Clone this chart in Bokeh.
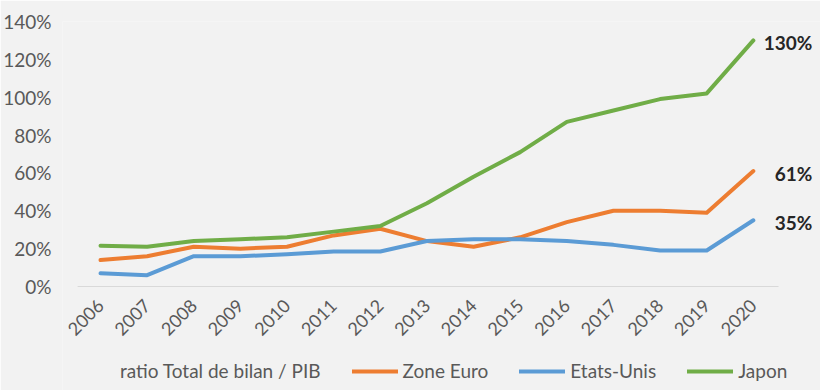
from math import pi
from bokeh.plotting import figure
from bokeh.models import (ColumnDataSource, Legend, LegendItem, Label,
                          PrintfTickFormatter, Range1d, FixedTicker)
from bokeh.embed import file_html
from bokeh.resources import INLINE

years = list(range(2006, 2021))
zone_euro = [14, 16, 21, 20, 21, 27, 30.5, 24, 21, 26, 34, 40, 40, 39, 61]
etats_unis = [7, 6, 16, 16, 17, 18.5, 18.5, 24, 25, 25, 24, 22, 19, 19, 35]
japon = [21.5, 21, 24, 25, 26, 29, 32, 44, 58, 71, 87, 93, 99, 102, 130]
y_ticks = [0, 20, 40, 60, 80, 100, 120, 140]
end_labels = ["130%", "61%", "35%"]
legend_title = "ratio Total de bilan / PIB"
series_names = ["Zone Euro", "Etats-Unis", "Japon"]

BG = "#f2f2f2"
FONT = "Lato"
colors = ["#ED7D31", "#5B9BD5", "#70AD47"]

# frame covers the whole area left/right/below so labels and legend are not clipped
x_start = years[0] - 0.815
x_end = years[-1] + 1.44
p = figure(width=820, height=390, output_backend="svg", toolbar_location=None,
           x_range=Range1d(x_start, x_end), y_range=Range1d(-54.94, 140),
           min_border_left=62, min_border_right=0, min_border_top=21,
           min_border_bottom=0)
p.background_fill_color = BG
p.border_fill_color = BG
p.outline_line_color = None
p.grid.visible = False

source = ColumnDataSource(dict(year=years, ze=zone_euro, us=etats_unis, jp=japon))

# baseline (category axis extent)
p.segment(x0=[years[0] - 0.49], y0=[0], x1=[years[-1] + 0.54], y1=[0],
          line_color="#d9d9d9", line_width=1)

# invisible renderer used only as a text-only legend entry
title_r = p.line("year", "ze", source=source, line_alpha=0)
renderers = []
for col, c in zip(["ze", "us", "jp"], colors):
    r = p.line("year", col, source=source, line_color=c, line_width=4,
               line_cap="round", line_join="round")
    renderers.append(r)

# y axis
p.yaxis.ticker = FixedTicker(ticks=y_ticks)
p.yaxis.formatter = PrintfTickFormatter(format="%d%%")
p.yaxis.axis_line_color = None
p.yaxis.major_tick_line_color = None
p.yaxis.minor_tick_line_color = None
p.yaxis.major_label_standoff = 5
p.yaxis.major_label_text_font = FONT
p.yaxis.major_label_text_font_size = "19px"
p.yaxis.major_label_text_color = "#595959"

# x axis drawn at y = 0
p.xaxis.fixed_location = 0
p.xaxis.ticker = FixedTicker(ticks=years)
p.xaxis.axis_line_color = None
p.xaxis.major_tick_line_color = None
p.xaxis.minor_tick_line_color = None
p.xaxis.major_label_orientation = pi / 4
p.xaxis.major_label_standoff = 10
p.xaxis.major_label_text_font = FONT
p.xaxis.major_label_text_font_size = "18px"
p.xaxis.major_label_text_color = "#595959"

# end labels
for yv, t in zip([japon[-1], zone_euro[-1], etats_unis[-1]], end_labels):
    p.add_layout(Label(x=years[-1], y=yv, text=t, x_offset=59, y_offset=-2,
                       text_align="right", text_baseline="middle",
                       text_font=FONT, text_font_size="19px", text_font_style="bold",
                       text_color="#262626"))

items = [LegendItem(label=legend_title, renderers=[title_r])]
items += [LegendItem(label=n, renderers=[r]) for n, r in zip(series_names, renderers)]
legend = Legend(items=items, orientation="horizontal", location=(7, 8),
                label_text_font=FONT, label_text_font_size="19px",
                label_text_color="#595959", glyph_width=46, glyph_height=20,
                label_standoff=5, spacing=31, padding=2, margin=0,
                border_line_color=None, background_fill_alpha=0)
p.add_layout(legend)

open("out.html", "w").write(file_html(p, INLINE))
